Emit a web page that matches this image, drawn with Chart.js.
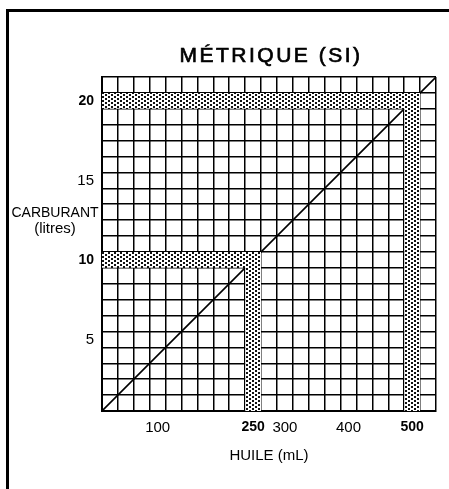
<!DOCTYPE html>
<html>
<head>
<meta charset="utf-8">
<title>Métrique (SI)</title>
<script src="https://cdn.jsdelivr.net/npm/chart.js@4/dist/chart.umd.min.js"></script>
<style>
  html, body { margin: 0; padding: 0; background: #fff; }
  #wrap { position: relative; width: 449px; height: 489px; overflow: hidden; }
  #frame { position: absolute; left: 6px; top: 9px; width: 600px; height: 600px;
           border-left: 3px solid #000; border-top: 3px solid #000; }
  #chart { position: absolute; left: 0; top: 0; }
</style>
</head>
<body>
<div id="wrap">
  <div id="frame"></div>
  <canvas id="chart" width="449" height="489"></canvas>
</div>
<script>
const FONT = '"Liberation Sans", Arial, sans-serif';

// titres
const chartTitle = 'MÉTRIQUE (SI)';
const oilTitle = 'HUILE (mL)';
const fuelTitle = ['CARBURANT', '(litres)'];

// une case = 25 mL d'huile, 1 L de carburant
const oilCells = [25, 50, 75, 100, 125, 150, 175, 200, 225, 250, 275, 300, 325, 350, 375, 400, 425, 450, 475, 500, 525];
const fuelCells = [1, 2, 3, 4, 5, 6, 7, 8, 9, 10, 11, 12, 13, 14, 15, 16, 17, 18, 19, 20, 21];
const oilStep = 25;
const fuelStep = 1;

// étiquettes des axes
const oilLabels = [100, 250, 300, 400, 500];
const oilBold = [250, 500];
const fuelLabels = [5, 10, 15, 20];
const fuelBold = [10, 20];

// mélanges repérés (bandes grisées)
const markedOil = [250, 500];
const markedFuel = [10, 20];

// droite de conversion (mL, L)
const ratioOil = [12.5, 537.5];
const ratioFuel = [0.5, 21.5];

const oilMin = oilCells[0] - oilStep / 2;
const oilMax = oilCells[oilCells.length - 1] + oilStep / 2;
const fuelMin = fuelCells[0] - fuelStep / 2;
const fuelMax = fuelCells[fuelCells.length - 1] + fuelStep / 2;

function makeStipple() {
  const c = document.createElement('canvas');
  c.width = 6; c.height = 4;
  const g = c.getContext('2d');
  g.fillStyle = '#fff';
  g.fillRect(0, 0, 6, 4);
  g.fillStyle = '#111';
  g.fillRect(0, 0, 2, 2);
  g.fillRect(3, 2, 2, 2);
  return g.createPattern(c, 'repeat');
}
const stipple = makeStipple();

// bandes : une horizontale jusqu'à la case, une verticale depuis le bas
const datasets = [];
markedOil.forEach((oil, i) => {
  const fuel = markedFuel[i];
  datasets.push({
    data: [{ x: oilMin, y: fuel + fuelStep / 2 }, { x: oil + oilStep / 2, y: fuel + fuelStep / 2 }],
    fill: { value: fuel - fuelStep / 2 },
    backgroundColor: stipple,
    borderWidth: 0,
    pointRadius: 0
  });
  datasets.push({
    data: [{ x: oil - oilStep / 2, y: fuel + fuelStep / 2 }, { x: oil + oilStep / 2, y: fuel + fuelStep / 2 }],
    fill: 'start',
    backgroundColor: stipple,
    borderWidth: 0,
    pointRadius: 0
  });
});
datasets.push({
  data: ratioOil.map((x, i) => ({ x: x, y: ratioFuel[i] })),
  borderColor: '#000',
  borderWidth: 1.6,
  pointRadius: 0,
  fill: false
});

const textPlugin = {
  id: 'sideText',
  afterDraw(chart) {
    const { ctx, chartArea } = chart;
    const y = chart.scales.y;
    ctx.save();
    ctx.fillStyle = '#000';
    ctx.strokeStyle = '#000';
    ctx.textAlign = 'center';
    ctx.textBaseline = 'middle';
    // titre un peu plus gras et espacé comme l'original
    ctx.font = '21px ' + FONT;
    if ('letterSpacing' in ctx) ctx.letterSpacing = '2.5px';
    const tx = (chartArea.left + chartArea.right) / 2 + 2;
    ctx.fillText(chartTitle, tx, 56);
    ctx.lineWidth = 0.7;
    ctx.strokeText(chartTitle, tx, 56);
    if ('letterSpacing' in ctx) ctx.letterSpacing = '0px';
    const mid = y.getPixelForValue(12.5);
    ctx.font = '14px ' + FONT;
    ctx.fillText(fuelTitle[0], 55, mid - 7);
    ctx.font = '15px ' + FONT;
    ctx.fillText(fuelTitle[1], 55, mid + 9);
    ctx.restore();
  }
};

function tickFont(boldList) {
  return (c) => {
    const bold = c.tick && boldList.includes(c.tick.value);
    return { family: FONT, size: bold ? 14 : 15, weight: bold ? 'bold' : 'normal' };
  };
}

new Chart(document.getElementById('chart'), {
  type: 'line',
  data: { datasets: datasets },
  plugins: [textPlugin],
  options: {
    responsive: false,
    animation: false,
    layout: { padding: { left: 0, right: 13, top: 77, bottom: 0 } },
    plugins: { legend: { display: false }, tooltip: { enabled: false }, title: { display: false } },
    scales: {
      x: {
        type: 'linear',
        min: oilMin,
        max: oilMax,
        z: 1,
        afterBuildTicks: (s) => { s.ticks = oilCells.map(v => ({ value: v })); },
        afterFit: (s) => { s.height = 78; },
        grid: { offset: true, color: '#000', lineWidth: 1.5, drawTicks: false },
        border: { color: '#000', width: 2 },
        ticks: {
          autoSkip: false,
          maxRotation: 0,
          padding: 8,
          color: '#000',
          font: tickFont(oilBold),
          callback: (v) => oilLabels.includes(v) ? String(v) : ''
        },
        title: {
          display: true,
          text: oilTitle,
          color: '#000',
          font: { family: FONT, size: 15 },
          padding: { top: 4, bottom: 24 }
        }
      },
      y: {
        type: 'linear',
        min: fuelMin,
        max: fuelMax,
        z: 1,
        afterBuildTicks: (s) => { s.ticks = fuelCells.map(v => ({ value: v })); },
        afterFit: (s) => { s.width = 102; },
        grid: { offset: true, color: '#000', lineWidth: 1.5, drawTicks: false },
        border: { color: '#000', width: 2 },
        ticks: {
          autoSkip: false,
          padding: 8,
          color: '#000',
          font: tickFont(fuelBold),
          callback: (v) => fuelLabels.includes(v) ? String(v) : ''
        }
      }
    }
  }
});
</script>
</body>
</html>
